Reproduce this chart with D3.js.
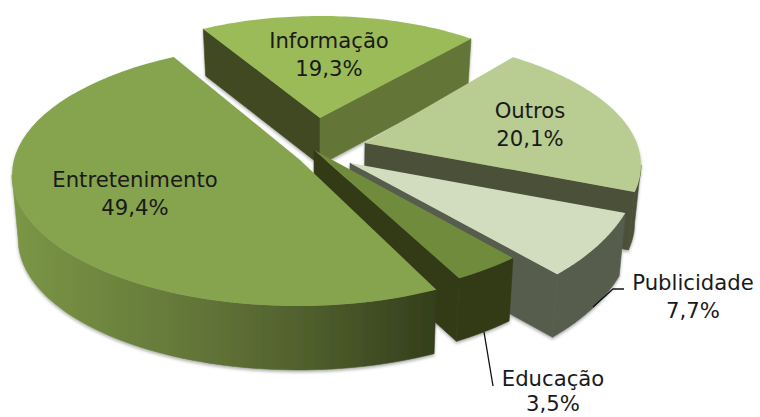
<!DOCTYPE html>
<html><head><meta charset="utf-8">
<script src="https://cdn.jsdelivr.net/npm/d3@7"></script>
<style>html,body{margin:0;background:#fff}svg{display:block}
text{font-family:"DejaVu Sans",sans-serif;font-size:21.2px;fill:#1a1a1a;text-anchor:middle}</style>
</head><body><svg id="c" width="760" height="417"></svg>
<script>
const categories = ["Informação","Outros","Publicidade","Educação","Entretenimento"];
const values = [19.3,20.1,7.7,3.5,49.4];
const valueLabels = ["19,3%","20,1%","7,7%","3,5%","49,4%"];
const topColors = ["#9bbb59","#b9cc92","#d2dcbe","#718b3e","#86a34d"];
const startWallColors = ["#3f4a22","#4b5138","#565d4e","#303a18","#384220"];
const endWallColors = ["#637638","#4b5138","#565d4e","#303a18","#384220"];
const outerWallColors = ["#637638","#4b5138","#565d4e","#303a18","url(#entWall)"];
// layout of each exploded slice: apex, ellipse centre and radii, angular fit, wall height
const apexX=[320,365,350,314,300], apexY=[118,143,163,150,160];
const centreX=[320,345,350,314,298], centreY=[118,165,163,150,175];
const radiusX=[240,296,290,291,286], radiusY=[102,131,159,148,131];
const rotateDeg=[-1.7,-7.5,-6.1,-5.3,-3.7], stretch=[.98,.93,.94,1.05,1.03];
const wallDepth=[47,58,63,63,64];
const labelX=[329,530,693,553,135], labelY=[48,118,290,386,187], labelGap=[28,28,28,25,28];

const rad=d=>d*Math.PI/180;
const svg=d3.select("#c");
const defs=svg.append("defs");
const g=defs.append("linearGradient").attr("id","entWall").attr("gradientUnits","userSpaceOnUse")
 .attr("x1",15).attr("x2",435).attr("y1",0).attr("y2",0);
[[0,"#7b9646"],[.2,"#6f873f"],[.45,"#627438"],[.7,"#4f5f2c"],[1,"#343e1c"]].forEach(s=>g.append("stop").attr("offset",s[0]).attr("stop-color",s[1]));
const f=defs.append("filter").attr("id","sh").attr("x","-5%").attr("y","-5%").attr("width","110%").attr("height","115%");
f.append("feDropShadow").attr("dx",0).attr("dy",2).attr("stdDeviation",1.5).attr("flood-color","#000").attr("flood-opacity",.3);

const pie=d3.pie().sort(null).startAngle(rad(-27.4)).endAngle(rad(332.6));
const arcs=pie(values);
const line=d3.line();
const vx=320, shrink=.98;
const chart=svg.append("g").attr("filter","url(#sh)");

arcs.forEach((a,i)=>{
  const t0=a.startAngle+rad(rotateDeg[i]);
  const t1=t0+(a.endAngle-a.startAngle)*stretch[i];
  const pt=t=>[centreX[i]+radiusX[i]*Math.sin(t),centreY[i]-radiusY[i]*Math.cos(t)];
  const low=p=>[vx+(p[0]-vx)*shrink,p[1]+wallDepth[i]];
  const apex=[apexX[i],apexY[i]];
  const samples=(s,e)=>d3.range(0,61).map(k=>pt(s+(e-s)*k/60));
  const lay=chart.append("g");
  const wall=(t,c)=>lay.append("path").attr("d",line([apex,pt(t),low(pt(t)),low(apex)])+"Z").attr("fill",c).attr("stroke",c).attr("stroke-width",.6);
  if(Math.sin(t0)<0) wall(t0,startWallColors[i]);
  if(Math.sin(t1)>0) wall(t1,endWallColors[i]);
  const s=Math.max(t0,rad(90)), e=Math.min(t1,rad(270));
  if(e>s){
    const top=samples(s,e);
    lay.append("path").attr("d",line(top.concat(top.map(low).reverse()))+"Z").attr("fill",outerWallColors[i]).attr("stroke",outerWallColors[i]).attr("stroke-width",.6);
  }
  lay.append("path").attr("d",line([apex].concat(samples(t0,t1)))+"Z").attr("fill",topColors[i]);
});

const leaders=[[[593,307],[613,289],[624,289]],[[484,332],[493,386]]];
leaders.forEach(l=>svg.append("path").attr("d",line(l)).attr("fill","none").attr("stroke","#111").attr("stroke-width",1.3));

categories.forEach((c,i)=>{
  svg.append("text").attr("x",labelX[i]).attr("y",labelY[i]).text(c);
  svg.append("text").attr("x",labelX[i]).attr("y",labelY[i]+labelGap[i]).text(valueLabels[i]);
});
</script></body></html>
